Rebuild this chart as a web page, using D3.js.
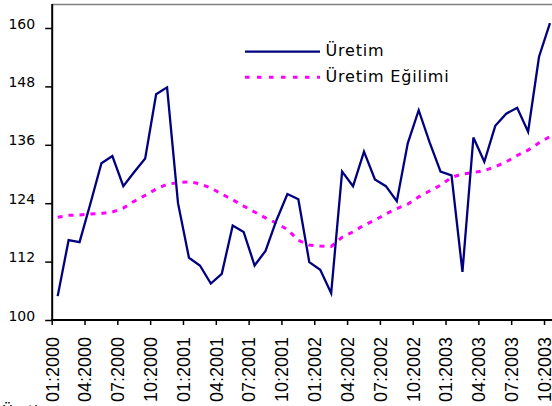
<!DOCTYPE html>
<html>
<head>
<meta charset="utf-8">
<script src="https://cdn.jsdelivr.net/npm/d3@7"></script>
<style>
    body { margin: 0; background: #fff; }
    svg { display: block; }
</style>
</head>
<body>
<svg width="552" height="406"></svg>
<script>
"use strict";

// months 01:2000 .. 10:2003
let years = ["2000", "2001", "2002", "2003"];
let months = ["01", "02", "03", "04", "05", "06", "07", "08", "09", "10", "11", "12"];

let uretim = [104.9, 116.4, 116.0, 124.0, 132.2, 133.7, 127.5, 130.4, 133.2, 146.4,
    147.8, 124.0, 112.8, 111.2, 107.5, 109.5, 119.4, 118.1, 111.2, 114.2,
    120.5, 125.9, 124.8, 111.9, 110.3, 105.5, 130.5, 127.5, 134.6, 128.9,
    127.5, 124.4, 136.3, 143.1, 136.5, 130.5, 129.7, 109.9, 137.5, 132.5,
    139.9, 142.4, 143.6, 138.7, 154.1, 161.0];

let egilim = [121.1, 121.5, 121.6, 121.8, 121.9, 122.2, 123.0, 124.4, 125.6, 126.9,
    127.9, 128.2, 128.4, 128.0, 127.1, 125.9, 124.7, 123.4, 122.2, 121.0,
    119.9, 118.6, 116.4, 115.4, 115.2, 115.1, 117.0, 118.1, 119.5, 120.5,
    121.8, 122.9, 123.8, 125.3, 126.5, 127.7, 129.3, 130.0, 130.3, 130.7,
    131.5, 132.5, 133.8, 134.9, 136.4, 137.7];

let yTicks = [100, 112, 124, 136, 148, 160];
let xTickLabels = ["01:2000", "04:2000", "07:2000", "10:2000", "01:2001", "04:2001",
    "07:2001", "10:2001", "01:2002", "04:2002", "07:2002", "10:2002",
    "01:2003", "04:2003", "07:2003", "10:2003"];

let categories = [];
years.forEach(y => months.forEach(m => categories.push(m + ":" + y)));
categories = categories.slice(0, uretim.length);

let svg = d3.select("svg"),
    width = +svg.attr("width"),
    height = +svg.attr("height");

let plotLeft = 52.2, plotTop = 4, plotBottom = 320, step = 10.94;

let x = d3.scaleBand()
    .domain(categories)
    .range([plotLeft, plotLeft + step * categories.length]);
let y = d3.scaleLinear()
    .domain([100, 100 + (plotBottom - plotTop) * 12 / 58.4])
    .range([plotBottom, plotTop]);

let cx = (d, i) => x(categories[i]) + x.bandwidth() / 2;

// top border of plot area
svg.append("line")
    .attr("x1", plotLeft).attr("x2", width)
    .attr("y1", plotTop + 0.5).attr("y2", plotTop + 0.5)
    .attr("stroke", "#808080").attr("stroke-width", 1.5);

// y axis
let yAxis = svg.append("g")
    .attr("transform", "translate(" + plotLeft + ",0)")
    .call(d3.axisLeft(y).tickValues(yTicks).tickSize(7).tickPadding(10));
yAxis.select(".domain").remove();
yAxis.selectAll("line").attr("stroke", "#000").attr("stroke-width", 1.5);
yAxis.selectAll("text")
    .attr("dy", "0")
    .style("font-family", "DejaVu Sans")
    .style("font-size", "14px")
    .attr("fill", "#000");

// x axis ticks and labels
let xt = svg.append("g");
xt.selectAll("line")
    .data(xTickLabels)
    .enter().append("line")
    .attr("x1", d => x(d)).attr("x2", d => x(d))
    .attr("y1", plotBottom).attr("y2", plotBottom + 5)
    .attr("stroke", "#000").attr("stroke-width", 1.5);
xt.selectAll("text")
    .data(xTickLabels)
    .enter().append("text")
    .attr("transform", d => "translate(" + x(d) + "," + (plotBottom + 17) + ") rotate(-90)")
    .attr("dy", "0.35em")
    .attr("text-anchor", "end")
    .style("font-family", "Liberation Sans")
    .style("font-size", "18px")
    .attr("fill", "#000")
    .text(d => d);

// axis lines
svg.append("line")
    .attr("x1", plotLeft).attr("x2", plotLeft)
    .attr("y1", plotTop).attr("y2", plotBottom + 1)
    .attr("stroke", "#000").attr("stroke-width", 2);
svg.append("line")
    .attr("x1", plotLeft - 1).attr("x2", width)
    .attr("y1", plotBottom).attr("y2", plotBottom)
    .attr("stroke", "#000").attr("stroke-width", 2);

// trend line
svg.append("path")
    .datum(egilim)
    .attr("fill", "none")
    .attr("stroke", "#FF00FF")
    .attr("stroke-width", 3)
    .attr("stroke-dasharray", "5 6")
    .attr("d", d3.line().x(cx).y(d => y(d)));

// production line
svg.append("path")
    .datum(uretim)
    .attr("fill", "none")
    .attr("stroke", "#000080")
    .attr("stroke-width", 2.3)
    .attr("stroke-linejoin", "miter")
    .attr("d", d3.line().x(cx).y(d => y(d)));

// legend
let legend = [
    {name: "Üretim", color: "#000080", dash: null, w: 2.3},
    {name: "Üretim Eğilimi", color: "#FF00FF", dash: "4.5 7.5", w: 3}
];
let lg = svg.append("g");
legend.forEach((l, i) => {
    let ly = 51.7 + i * 25.6;
    lg.append("line")
        .attr("x1", 245).attr("x2", 320)
        .attr("y1", ly).attr("y2", ly)
        .attr("stroke", l.color)
        .attr("stroke-width", l.w)
        .attr("stroke-dasharray", l.dash);
    lg.append("text")
        .attr("x", 325.5).attr("y", ly + 4.3)
        .style("font-family", "DejaVu Sans")
        .style("font-size", "16px")
        .style("letter-spacing", "0.8px")
        .attr("fill", "#000")
        .text(l.name);
});

// caption below the chart, mostly outside the window (only the umlaut shows)
svg.append("text")
    .attr("x", 2).attr("y", 417)
    .style("font-family", "DejaVu Sans")
    .style("font-size", "15px")
    .attr("fill", "#000")
    .text("Üretim");
</script>
</body>
</html>
